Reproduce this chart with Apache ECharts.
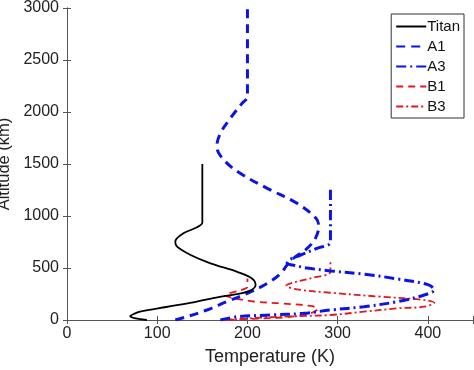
<!DOCTYPE html>
<html><head><meta charset="utf-8">
<script src="https://cdn.jsdelivr.net/npm/echarts@6/dist/echarts.min.js"></script>
<style>html,body{margin:0;padding:0;background:#fff}#c{width:474px;height:370px}</style>
</head><body><div id="c"></div>
<script>
const seriesNames = ['Titan', 'A1', 'A3', 'B1', 'B3'];
const xTicks = [0, 100, 200, 300, 400];
const yTicks = [0, 500, 1000, 1500, 2000, 2500, 3000];

const titanT   = [88.5, 76, 70, 74, 81, 110, 140, 168, 190, 203, 209, 205, 188, 159, 137, 122, 120, 129, 144, 150, 150, 150];
const titanAlt = [0, 15, 38, 58, 80, 125, 170, 220, 252, 282, 337, 400, 465, 545, 625, 705, 753, 833, 891, 935, 962, 1500];

const a1T   = [120, 133, 155, 177, 200, 222, 237, 244, 252, 265, 275, 279, 276, 255, 222, 192, 174, 166, 170, 181, 194, 200, 200];
const a1Alt = [0, 32, 96, 176, 256, 353, 449, 530, 600, 680, 780, 900, 978, 1122, 1266, 1410, 1538, 1667, 1795, 1939, 2083, 2147, 3000];

const a3T   = [170, 189, 226, 262, 292, 329, 366, 396, 407, 400, 366, 330, 292, 266, 250, 244, 246, 259, 277, 292, 292];
const a3Alt = [0, 32, 48, 64, 96, 128, 176, 240, 290, 340, 395, 440, 472, 500, 529, 545, 577, 625, 689, 753, 1280];

const b1T   = [178, 200, 240, 268, 278, 270, 237, 207, 185, 175, 190, 200, 200];
const b1Alt = [0, 10, 25, 60, 110, 135, 160, 178, 210, 240, 280, 320, 400];

const b3T   = [175, 210, 250, 292, 329, 366, 396, 407, 396, 348, 292, 255, 243, 248, 270, 292, 292];
const b3Alt = [0, 20, 35, 48, 80, 112, 128, 165, 192, 224, 262, 295, 330, 353, 401, 465, 580];

const colors = ['#000000', '#0a14e6', '#0a14e6', '#e8141e', '#e8141e'];
const widths = [1.8, 3, 3, 1.8, 1.8];
const dashes = ['solid', [9, 6], [10, 4, 2, 4], [7, 5], [7, 3, 2, 3]];
const xs = [titanT, a1T, a3T, b1T, b3T];
const ys = [titanAlt, a1Alt, a3Alt, b1Alt, b3Alt];

const pairs = (a, b) => a.map((v, i) => [v, b[i]]);

const chart = echarts.init(document.getElementById('c'), null, {renderer: 'canvas'});
const font = '"Liberation Sans", Arial, sans-serif';
const axisCommon = {
  type: 'value',
  axisLine: {show: true, lineStyle: {color: '#555', width: 1}},
  axisTick: {show: true, inside: true, length: 4, lineStyle: {color: '#555'}},
  splitLine: {show: false}
};
chart.setOption({
  animation: false,
  textStyle: {fontFamily: font},
  grid: {left: 67, right: 1, top: 8, bottom: 50, containLabel: false, outerBoundsMode: 'none'},
  legend: {
    data: seriesNames,
    orient: 'vertical',
    right: 10, top: 14,
    itemWidth: 30, itemHeight: 10, itemGap: 5,
    padding: [5, 4, 4, 4],
    borderColor: '#333', borderWidth: 1, backgroundColor: '#fff',
    itemStyle: {opacity: 0},
    textStyle: {fontSize: 15, color: '#111', fontFamily: font, padding: [0, 0, 0, -4]}
  },
  xAxis: [
    Object.assign({}, axisCommon, {
      min: 0, max: 450, interval: 100, position: 'bottom',
      name: 'Temperature (K)', nameLocation: 'middle', nameGap: 28,
      nameTextStyle: {fontSize: 18, color: '#222', fontFamily: font},
      axisLabel: {fontSize: 16, color: '#222', margin: 6, fontFamily: font,
        formatter: v => xTicks.includes(v) ? String(v) : ''}
    }),
    Object.assign({}, axisCommon, {
      min: 0, max: 450, interval: 100, position: 'top',
      axisLabel: {show: false}
    })
  ],
  yAxis: [
    Object.assign({}, axisCommon, {
      min: 0, max: 3000, interval: 500, position: 'left',
      name: 'Altitude (km)', nameLocation: 'middle', nameGap: 52,
      nameTextStyle: {fontSize: 16.5, color: '#222', fontFamily: font},
      axisLabel: {fontSize: 16, color: '#222', margin: 8, fontFamily: font, align: 'right',
        formatter: v => yTicks.includes(v) ? String(v) : ''}
    }),
    Object.assign({}, axisCommon, {
      min: 0, max: 3000, interval: 500, position: 'right',
      axisLabel: {show: false}
    })
  ],
  series: seriesNames.map((n, i) => ({
    name: n, type: 'line',
    data: pairs(xs[i], ys[i]),
    smooth: 0.35,
    symbol: 'none', showSymbol: false,
    clip: true,
    z: 5 - i,
    itemStyle: {color: colors[i]},
    lineStyle: {color: colors[i], width: widths[i], type: dashes[i]}
  }))
});
</script></body></html>
